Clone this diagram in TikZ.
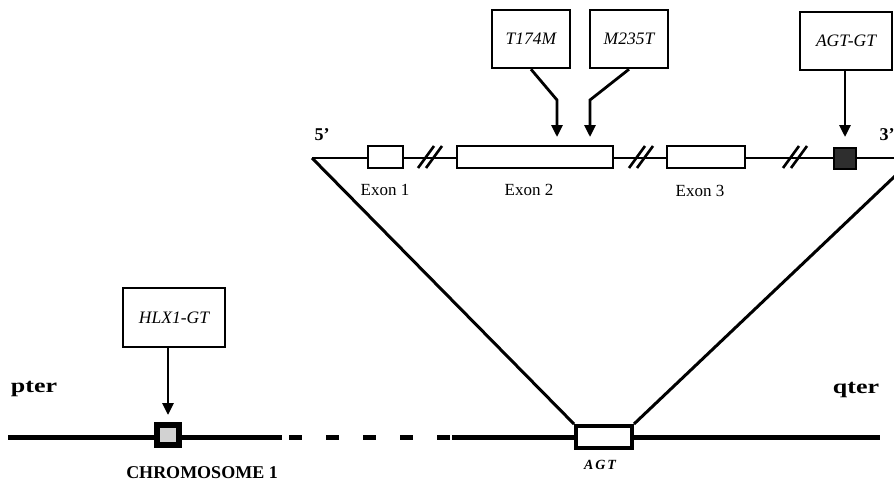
\documentclass[tikz,border=0pt]{standalone}
\usepackage{fontspec}
\setmainfont{Liberation Serif}
\usetikzlibrary{arrows.meta}
\begin{document}
\begin{tikzpicture}[x=1pt,y=-1pt,
  callout/.style={draw,line width=2.5pt,fill=white,inner sep=0pt,
    font=\fontsize{17.5}{20}\selectfont\itshape},
  exon/.style={draw,line width=2.2pt,fill=white,inner sep=0pt,minimum height=22pt},
  pointer/.style={line width=2.8pt,-{Triangle[width=11pt,length=12pt]}},
  gene/.style={line width=2pt},
  chrom/.style={line width=5pt},
  tri/.style={line width=3pt},
  exlabel/.style={font=\fontsize{17}{20}\selectfont},
  biglabel/.style={font=\fontsize{18}{21}\selectfont\bfseries},
  breakmark/.pic={\draw[line width=2.6pt] (-12,11) -- (4,-11) (-4,11) -- (12,-11);}
]
\clip (0,0) rectangle (894,493);

% gene region with its exons
\coordinate (gl) at (312,158);
\coordinate (gr) at (914,158);
\draw[gene] (gl) -- (gr);
\node[exon,minimum width=35pt] (ex1) at (385.5,157) {};
\node[exon,minimum width=156pt] (ex2) at (535,157) {};
\node[exon,minimum width=78pt] (ex3) at (706,157) {};
\node[draw,line width=2pt,fill=black!82,inner sep=0pt,minimum width=22pt,minimum height=21pt] (gtbox) at (844.5,158) {};
\pic at (430,157) {breakmark};
\pic at (641,157) {breakmark};
\pic at (795,157) {breakmark};

\node[exlabel] (ex1l) at (385,190) {Exon 1};
\node[exlabel] (ex2l) at (529,190) {Exon 2};
\node[exlabel] (ex3l) at (700,191) {Exon 3};
\node[biglabel,anchor=base] (five) at (322,140) {5’};
\node[biglabel,anchor=base west] (three) at (876,140) {3’};

% chromosome
\coordinate (c0) at (8,437);
\coordinate (c1) at (282,437);
\coordinate (d0) at (289,437);
\coordinate (d1) at (450,437);
\coordinate (c2) at (452,437);
\coordinate (c3) at (880,437);
\draw[chrom] (c0) -- (c1);
\draw[chrom,dash pattern=on 13pt off 24pt] (d0) -- (d1);
\draw[chrom] (c2) -- (c3);
\node[draw,line width=4pt,fill=white,inner sep=0pt,minimum width=56pt,minimum height=22pt] (agt) at (604,437) {};
\node[draw,line width=6pt,fill=gray!35,inner sep=0pt,minimum width=22pt,minimum height=20pt] (hlxbox) at (168,434.5) {};

% expansion of the AGT locus
\draw[tri] (gl) -- (agt.north west);
\draw[tri] (gr) -- (agt.north east);

\node[font=\fontsize{14}{17}\selectfont\itshape\bfseries] (agtl) at (600,465) {A\kern2pt G\kern2pt T};
\node[font=\fontsize{20}{23}\selectfont\bfseries,anchor=base] (pter) at (34,392) {\scalebox{1.3}[1]{pter}};
\node[font=\fontsize{20}{23}\selectfont\bfseries,anchor=base] (qter) at (856,393) {\scalebox{1.3}[1]{qter}};
\node[biglabel] (chr) at (202,473) {CHROMOSOME 1};

% markers and variants
\node[callout,minimum width=78pt,minimum height=58pt] (t174) at (531,39) {T174M};
\node[callout,minimum width=78pt,minimum height=58pt] (m235) at (629,39) {M235T};
\node[callout,minimum width=92pt,minimum height=58pt] (agtgt) at (846,41) {AGT-GT};
\node[callout,minimum width=102pt,minimum height=59pt] (hlx) at (174,317.5) {HLX1-GT};

\coordinate (tbend) at (557,100);
\coordinate (ttip) at (557,137);
\coordinate (mbend) at (590,100);
\coordinate (mtip) at (590,137);
\coordinate (atip) at (845,137);
\coordinate (htip) at (168,415);
\draw[pointer] (t174.south) -- (tbend) -- (ttip);
\draw[pointer] (m235.south) -- (mbend) -- (mtip);
\draw[pointer] (agtgt.south -| atip) -- (atip);
\draw[pointer] (hlx.south -| htip) -- (htip);
\end{tikzpicture}
\end{document}
